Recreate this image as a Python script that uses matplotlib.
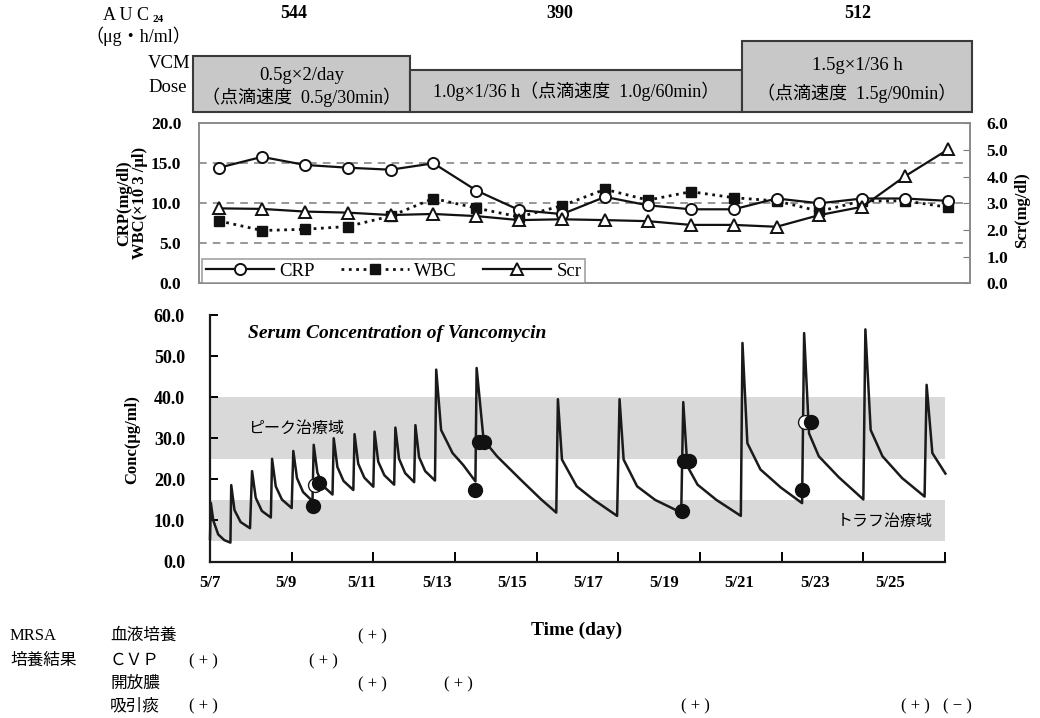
import numpy as np
import matplotlib
matplotlib.use('Agg')
import matplotlib.pyplot as plt
import matplotlib.transforms as mtransforms
from matplotlib.patches import Rectangle

SERIF = ['Liberation Serif', 'Noto Sans CJK JP']
GOTHIC = ['Noto Sans CJK JP', 'DejaVu Sans']
plt.rcParams['font.family'] = SERIF

# ---------------- data ----------------
auc_values = ['544', '390', '512']
dose_line1 = ['0.5g×2/day', '', '1.5g×1/36 h']
dose_line2 = ['（点滴速度  0.5g/30min）', '1.0g×1/36 h（点滴速度  1.0g/60min）', '（点滴速度  1.5g/90min）']

lab_idx = np.arange(18)
crp = [14.45, 15.8, 14.8, 14.45, 14.2, 15.0, 11.6, 9.15, 8.65,
       10.8, 9.75, 9.25, 9.25, 10.6, 10.0, 10.6, 10.6, 10.3]
wbc = [7.8, 6.6, 6.75, 7.1, 8.4, 10.6, 9.4, 8.3, 9.7,
       11.75, 10.4, 11.45, 10.7, 10.3, 9.0, 10.3, 10.3, 9.5]
scr = [2.81, 2.79, 2.69, 2.65, 2.56, 2.6, 2.52, 2.37, 2.4,
       2.37, 2.33, 2.19, 2.19, 2.12, 2.56, 2.87, 4.02, 5.02]

# simulated serum concentration (days from 5/7, ug/ml)
conc_t = [0.0, 0.02, 0.08, 0.2, 0.35, 0.50,
          0.52, 0.6, 0.75, 0.98,
          1.03, 1.12, 1.27, 1.49,
          1.52, 1.61, 1.76, 2.0,
          2.04, 2.13, 2.28, 2.51,
          2.54, 2.63, 2.78, 3.0,
          3.03, 3.12, 3.27, 3.51,
          3.54, 3.63, 3.78, 4.0,
          4.03, 4.12, 4.27, 4.51,
          4.54, 4.63, 4.78, 5.0,
          5.03, 5.12, 5.27, 5.51,
          5.54, 5.66, 5.94, 6.2, 6.5,
          6.53, 6.70, 7.03, 7.6, 8.1, 8.48,
          8.52, 8.62, 8.98, 9.4, 9.97,
          10.03, 10.13, 10.46, 10.9, 11.54,
          11.59, 11.69, 11.94, 12.4, 13.0,
          13.04, 13.16, 13.48, 13.98, 14.5,
          14.55, 14.67, 14.91, 15.4, 16.0,
          16.05, 16.18, 16.47, 16.95, 17.5,
          17.55, 17.69, 18.01]
conc_c = [5.5, 14.3, 10.0, 6.6, 5.2, 4.6,
          18.6, 12.5, 9.6, 8.1,
          22.0, 15.5, 12.3, 10.7,
          25.0, 18.3, 15.1, 13.0,
          26.9, 20.3, 16.9, 14.7,
          28.4, 21.6, 18.3, 16.3,
          30.0, 23.0, 19.6, 17.4,
          31.0, 23.8, 20.4, 18.2,
          31.6, 24.3, 21.0, 18.7,
          32.6, 25.0, 21.5, 19.3,
          33.2, 25.4, 22.0, 19.7,
          46.7, 32.0, 26.4, 23.5, 19.5,
          47.1, 29.6, 25.6, 20.0, 15.2, 11.9,
          39.5, 24.8, 18.3, 15.0, 11.1,
          39.5, 24.8, 18.3, 15.0, 11.9,
          38.8, 23.2, 18.7, 15.0, 11.1,
          53.2, 28.8, 22.4, 18.0, 14.2,
          55.6, 31.2, 25.6, 20.5, 15.1,
          56.5, 32.0, 25.6, 20.3, 15.8,
          43.0, 26.4, 21.4]

meas_t = [2.52, 2.66, 6.50, 6.58, 6.70, 11.56, 11.60, 11.72, 14.50, 14.71]
meas_c = [13.4, 19.2, 17.3, 29.2, 29.2, 12.3, 24.4, 24.4, 17.4, 34.0]
open_t = [2.57, 14.58]
open_c = [18.5, 34.0]

peak_range = (25, 40)
trough_range = (5, 15)

date_labels = ['5/7', '5/9', '5/11', '5/13', '5/15', '5/17', '5/19', '5/21', '5/23', '5/25']

culture_rows = ['血液培養', 'ＣＶＰ', '開放膿', '吸引痰']
culture_row = [0, 1, 1, 2, 2, 3, 3, 3, 3]
culture_day = [3.99, -0.17, 2.77, 3.99, 6.08, -0.17, 11.89, 17.28, 18.31]
culture_mark = ['( + )'] * 8 + ['( − )']

# ---------------- figure ----------------
W, H = 1040, 718
fig = plt.figure(figsize=(W / 100, H / 100), dpi=100)


def fy(y):
    return 1 - y / H


# overlay in pixel coordinates for the header boxes and texts
ov = fig.add_axes([0, 0, 1, 1])
ov.set_xlim(0, W)
ov.set_ylim(H, 0)
ov.axis('off')

ov.text(126, 15, 'A U C', ha='center', va='center', fontsize=13, family=SERIF)
ov.text(158, 19, '24', ha='center', va='center', fontsize=8, family=SERIF, fontweight='bold')
ov.text(138, 36, '（μg・h/ml）', ha='center', va='center', fontsize=13, family=SERIF)
ov.text(169, 64, 'VCM', ha='center', va='center', fontsize=13.5, family=SERIF)
ov.text(168, 88, 'Dose', ha='center', va='center', fontsize=13.5, family=SERIF)

for x, v in zip([294, 560, 858], auc_values):
    ov.text(x, 14, v, ha='center', va='center', fontsize=13, fontweight='bold', family=SERIF)

boxes = [(193.3, 55.7, 216.7, 56.6), (410, 70, 331.7, 42.3), (741.7, 41, 230.6, 71.3)]
for (x0, y0, w, h), l1, l2 in zip(boxes, dose_line1, dose_line2):
    ov.add_patch(Rectangle((x0, y0), w, h, facecolor='#c8c8c8', edgecolor='#3a3a3a', lw=1.5))
    cx = x0 + w / 2
    if l1:
        ov.text(cx, y0 + h * 0.35, l1, ha='center', va='center', fontsize=13.5, family=SERIF)
        ov.text(cx, y0 + h * 0.73, l2, ha='center', va='center', fontsize=13, family=SERIF)
    else:
        ov.text(cx, y0 + h / 2, l2, ha='center', va='center', fontsize=13, family=SERIF)

# ---------------- CRP / WBC / Scr panel ----------------
ax1 = fig.add_axes([199.3 / W, fy(283.3), (970 - 199.3) / W, 160 / H])
ax1.set_xlim(-0.46, 17.51)
ax1.set_ylim(0, 20)
for v in [5, 10, 15]:
    ax1.axhline(v, color='#7a7a7a', lw=1.1, ls=(0, (5, 4)), zorder=1)
ax1.plot(lab_idx, crp, '-', color='#111111', lw=1.6, marker='o', ms=8,
         mfc='white', mec='#111111', mew=1.4, label='CRP', zorder=4)
ax1.plot(lab_idx, wbc, ':', color='#111111', lw=2.0, marker='s', ms=7.5,
         mfc='#111111', mec='#111111', label='WBC', zorder=3)
ax2 = ax1.twinx()
ax2.set_ylim(0, 6)
ax2.plot(lab_idx, scr, '-', color='#111111', lw=1.6, marker='^', ms=9,
         mfc='white', mec='#111111', mew=1.4, label='Scr', zorder=3)
ax1.set_xticks([])
ax1.set_yticks(np.arange(0, 21, 5))
ax1.set_yticklabels([f'{v:.1f}' for v in np.arange(0, 21, 5)], fontweight='bold', fontsize=12.5)
ax1.tick_params(axis='y', length=0, pad=13)
ax2.set_yticks(np.arange(0, 7, 1))
ax2.set_yticklabels([f'{v:.1f}' for v in np.arange(0, 7, 1)], fontweight='bold', fontsize=12.5)
ax2.tick_params(axis='y', direction='in', length=5, pad=12, color='#7a7a7a')
for a in (ax1, ax2):
    for s in a.spines.values():
        s.set_color('#8a8a8a')
        s.set_linewidth(1.2)

h1, l1 = ax1.get_legend_handles_labels()
h2, l2 = ax2.get_legend_handles_labels()
leg = ax2.legend(h1 + h2, l1 + l2, loc='lower left', bbox_to_anchor=(0.004, 0.0),
                 ncol=3, frameon=True, fancybox=False, edgecolor='#8a8a8a',
                 handlelength=3.6, handletextpad=0.3, columnspacing=1.4,
                 borderaxespad=0, borderpad=0.2, prop={'family': SERIF, 'size': 13.5})
leg.get_frame().set_linewidth(1.2)

fig.text(124 / W, fy(203), 'CRP(mg/dl)', rotation=90, ha='center', va='center',
         fontsize=12, fontweight='bold', family=SERIF)
fig.text(140 / W, fy(203), 'WBC(×10 3 /μl)', rotation=90, ha='center', va='center',
         fontsize=12, fontweight='bold', family=SERIF)
fig.text(1022 / W, fy(210), 'Scr(mg/dl)', rotation=90, ha='center', va='center',
         fontsize=12, fontweight='bold', family=SERIF)

# ---------------- concentration panel ----------------
ax = fig.add_axes([210 / W, fy(561.5), 735 / W, (561.5 - 315) / H])
ax.set_xlim(0, 18)
ax.set_ylim(0, 60)
ax.axhspan(*peak_range, xmin=0, xmax=18.2 / 18, color='#d9d9d9', lw=0, zorder=0)
ax.axhspan(*trough_range, xmin=0, xmax=18.2 / 18, color='#d9d9d9', lw=0, zorder=0)
ax.plot(conc_t, conc_c, '-', color='#1a1a1a', lw=1.8, zorder=3, clip_on=False)
ax.plot(open_t, open_c, 'o', ms=10, mfc='white', mec='#1a1a1a', mew=1.0, zorder=4)
ax.plot(meas_t, meas_c, 'o', ms=10, mfc='#111111', mec='#111111', zorder=5)

for s in ['top', 'right']:
    ax.spines[s].set_visible(False)
for s in ['left', 'bottom']:
    ax.spines[s].set_linewidth(1.6)
    ax.spines[s].set_color('#1a1a1a')
ax.set_yticks(np.arange(0, 61, 10))
ax.set_yticklabels([f'{v:.1f}' for v in np.arange(0, 61, 10)], fontweight='bold', fontsize=13)
ax.tick_params(axis='y', direction='in', length=6, width=1.4, pad=18)
ax.xaxis.remove_overlapping_locs = False
ax.set_xticks(np.arange(0, 19, 2))
ax.set_xticklabels([])
ax.tick_params(axis='x', which='major', direction='in', length=7, width=1.4)
label_pos = np.arange(len(date_labels)) * 1.852
ax.set_xticks(label_pos, minor=True)
ax.set_xticklabels(date_labels, minor=True, fontweight='bold', fontsize=12)
ax.tick_params(axis='x', which='minor', length=0, pad=10)

ax.text(0.93, 32.3, 'ピーク治療域', fontsize=11.5, family=GOTHIC, va='center', zorder=2)
ax.text(15.35, 9.8, 'トラフ治療域', fontsize=11.5, family=GOTHIC, va='center', zorder=2)
ax.text(0.94, 55.5, 'Serum Concentration of Vancomycin', fontsize=14,
        fontstyle='italic', fontweight='bold', family=SERIF, va='center')

fig.text(132 / W, fy(440), 'Conc(μg/ml)', rotation=90, ha='center', va='center',
         fontsize=12, fontweight='bold', family=SERIF)
fig.text(577 / W, fy(630), 'Time (day)', ha='center', va='center',
         fontsize=14, fontweight='bold', family=SERIF)

# ---------------- culture results ----------------
row_y = [636, 661, 684, 706]
fig.text(10 / W, fy(row_y[0]), 'MRSA', ha='left', va='center', fontsize=12, family=SERIF)
fig.text(10 / W, fy(row_y[1]), '培養結果', ha='left', va='center', fontsize=12, family=SERIF)
for name, y in zip(culture_rows, row_y):
    fig.text(110 / W, fy(y), name, ha='left', va='center', fontsize=12, family=SERIF)
trans = mtransforms.blended_transform_factory(ax.transData, fig.transFigure)
for r, d, m in zip(culture_row, culture_day, culture_mark):
    ax.text(d, fy(row_y[r]), m, transform=trans, ha='center', va='center',
            fontsize=12, family=SERIF, clip_on=False)

fig.savefig('out.png', dpi=100)
